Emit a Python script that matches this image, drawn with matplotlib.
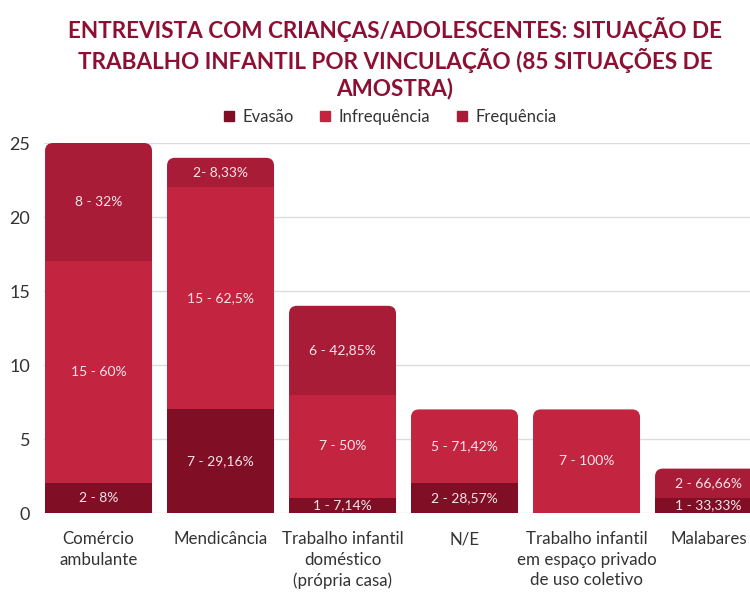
import matplotlib.pyplot as plt
from matplotlib.patches import FancyBboxPatch

plt.rcParams['font.family'] = ['Lato', 'DejaVu Sans']

categories = ['Comércio\nambulante', 'Mendicância',
              'Trabalho infantil\ndoméstico\n(própria casa)', 'N/E',
              'Trabalho infantil\nem espaço privado\nde uso coletivo', 'Malabares']
evasao = [2, 7, 1, 2, 0, 1]
infrequencia = [15, 15, 7, 5, 7, 0]
frequencia = [8, 2, 6, 0, 0, 2]
evasao_lbl = ['2 - 8%', '7 - 29,16%', '1 - 7,14%', '2 - 28,57%', '', '1 - 33,33%']
infreq_lbl = ['15 - 60%', '15 - 62,5%', '7 - 50%', '5 - 71,42%', '7 - 100%', '']
freq_lbl = ['8 - 32%', '2- 8,33%', '6 - 42,85%', '', '', '2 - 66,66%']

series_names = ['Evasão', 'Infrequência', 'Frequência']
colors = ['#800e25', '#c32541', '#a81c38']

W, H = 750, 592
fig = plt.figure(figsize=(W / 100, H / 100), dpi=100)
ax = fig.add_axes([44 / W, 79 / H, (W - 44) / W, 370 / H])
xmin, xmax = -0.447, 5.34
ymin, ymax = 0, 25
ax.set_xlim(xmin, xmax)
ax.set_ylim(ymin, ymax)

# data units per pixel, for rounded corners
xpp = (xmax - xmin) / (W - 44)
ypp = (ymax - ymin) / 370
bw = 0.877

for y in range(0, 26, 5):
    ax.axhline(y, color='#dcdcdc', lw=1, zorder=0)

for i in range(len(categories)):
    segs = [(evasao[i], colors[0], evasao_lbl[i]),
            (infrequencia[i], colors[1], infreq_lbl[i]),
            (frequencia[i], colors[2], freq_lbl[i])]
    segs = [s for s in segs if s[0] > 0]
    total = sum(s[0] for s in segs)
    bottom = 0
    for k, (v, c, lbl) in enumerate(segs):
        if k == len(segs) - 1:
            # top segment: rounded top corners, bottom hidden below axis
            p = FancyBboxPatch((i - bw / 2, -1), bw, total + 1,
                               boxstyle='round,pad=0,rounding_size=%f' % (8 * xpp),
                               mutation_aspect=ypp / xpp,
                               facecolor=c, edgecolor='none', zorder=2)
            ax.add_patch(p)
        else:
            ax.bar(i, v, bw, bottom=bottom, color=c, zorder=3)
        ax.text(i, bottom + v / 2, lbl, ha='center', va='center',
                color='#f6e6ea', fontsize=10, zorder=4)
        bottom += v

ax.set_xticks(range(len(categories)))
ax.set_xticklabels(categories, fontsize=12.2, color='#333333', linespacing=1.35, va='top')
ax.set_yticks(range(0, 26, 5))
ax.tick_params(axis='y', labelsize=13, colors='#333333', length=0, pad=10)
ax.tick_params(axis='x', length=0, pad=13)
for s in ax.spines.values():
    s.set_visible(False)

handles = [plt.Rectangle((0, 0), 1, 1, color=c) for c in colors]
fig.legend(handles, series_names, loc='center', bbox_to_anchor=(0.52, 1 - 117 / H),
           ncol=3, frameon=False, fontsize=12, handlelength=0.6, handleheight=0.6,
           handletextpad=0.5, columnspacing=1.6, labelcolor='#333333')

fig.text(395 / W, 1 - 58 / H,
         'ENTREVISTA COM CRIANÇAS/ADOLESCENTES: SITUAÇÃO DE\n'
         'TRABALHO INFANTIL POR VINCULAÇÃO (85 SITUAÇÕES DE\nAMOSTRA)',
         ha='center', va='center', fontsize=16.2, fontweight='bold',
         color='#8c1034', linespacing=1.29)

fig.savefig('out.png', dpi=100)
